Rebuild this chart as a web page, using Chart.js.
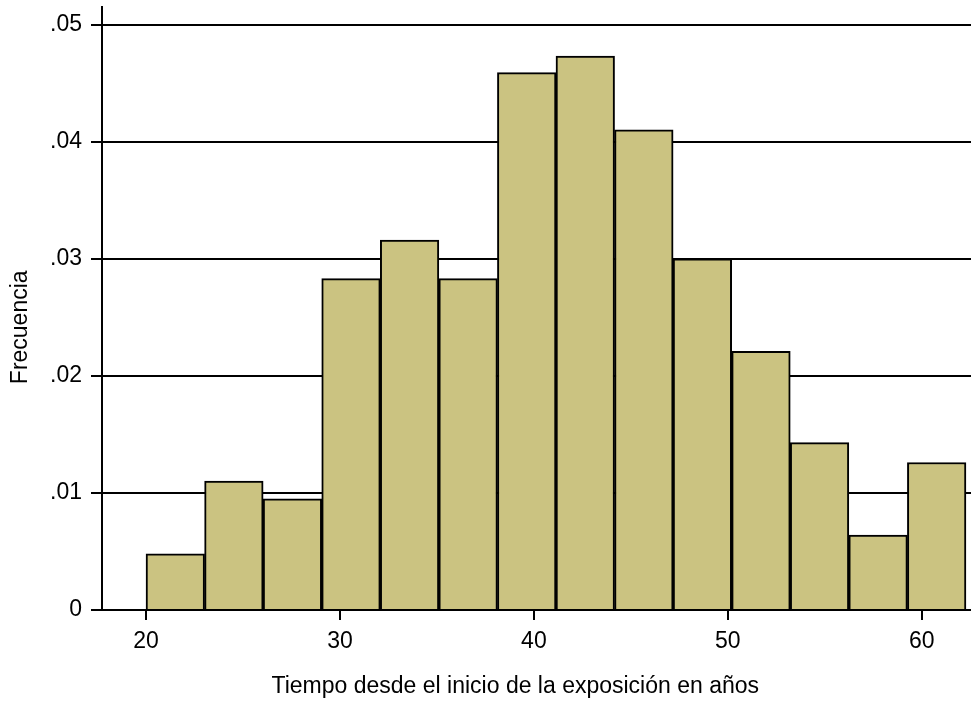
<!DOCTYPE html>
<html>
<head>
<meta charset="utf-8">
<script src="https://cdn.jsdelivr.net/npm/chart.js@4/dist/chart.umd.min.js"></script>
<style>
  html, body { margin: 0; padding: 0; background: #fff; }
  #wrap { width: 971px; height: 702px; position: relative; }
</style>
</head>
<body>
<div id="wrap"><canvas id="c" width="971" height="702"></canvas></div>
<script>
// Bin centers (bins ~3 years wide, starting at 20)
const binCenters = [21.51, 24.53, 27.55, 30.57, 33.59, 36.61, 39.63, 42.65, 45.67, 48.69, 51.71, 54.73, 57.75, 60.77];
const frequencies = [0.0048, 0.0110, 0.0095, 0.0283, 0.0316, 0.0283, 0.0459, 0.0473, 0.0410, 0.0300, 0.0221, 0.0143, 0.0064, 0.0126];
const xTicks = [20, 30, 40, 50, 60];
const yTicks = [0, 0.01, 0.02, 0.03, 0.04, 0.05];
const yTickLabels = ['0', '.01', '.02', '.03', '.04', '.05'];
const xTitle = 'Tiempo desde el inicio de la exposición en años';
const yTitle = 'Frecuencia';

const FONT = { family: '"Liberation Sans", Arial, sans-serif', size: 23 };

const axisTitlesPlugin = {
  id: 'axisTitles',
  afterDraw(chart) {
    const ctx = chart.ctx;
    const y = chart.scales.y;
    const x = chart.scales.x;
    ctx.save();
    ctx.fillStyle = '#000';
    ctx.font = FONT.size + 'px ' + FONT.family;
    ctx.textAlign = 'center';
    ctx.textBaseline = 'alphabetic';
    // x title
    const cx = (x.getPixelForValue(20) + x.getPixelForValue(62)) / 2 - 38;
    ctx.fillText(xTitle, cx, 693);
    // y title
    const cy = (y.getPixelForValue(0) + y.getPixelForValue(0.05)) / 2 + 10;
    ctx.translate(27, cy);
    ctx.rotate(-Math.PI / 2);
    ctx.fillText(yTitle, 0, 0);
    ctx.restore();
  }
};

new Chart(document.getElementById('c'), {
  type: 'bar',
  data: {
    datasets: [{
      data: binCenters.map((x, i) => ({ x: x, y: frequencies[i] })),
      backgroundColor: 'rgb(203,195,129)',
      borderColor: '#000',
      borderWidth: 2,
      barPercentage: 1,
      categoryPercentage: 1
    }]
  },
  plugins: [axisTitlesPlugin],
  options: {
    responsive: false,
    animation: false,
    layout: { padding: { top: 7, right: 0, left: 0, bottom: 0 } },
    plugins: { legend: { display: false }, tooltip: { enabled: false } },
    scales: {
      x: {
        type: 'linear',
        offset: false,
        min: 17.73,
        max: 62.54,
        afterBuildTicks: s => { s.ticks = xTicks.map(v => ({ value: v })); },
        afterFit: s => { s.height = 92; s.paddingLeft = 0; s.paddingRight = 0; },
        grid: { offset: false, drawOnChartArea: false, drawTicks: true, tickLength: 10, color: '#000', lineWidth: 2 },
        border: { display: true, color: '#000', width: 2 },
        ticks: { color: '#000', font: FONT, padding: 8, maxRotation: 0, autoSkip: false, callback: v => String(v) },
        title: { display: false }
      },
      y: {
        min: 0,
        max: 0.0515,
        afterBuildTicks: s => { s.ticks = yTicks.map(v => ({ value: v })); },
        afterFit: s => { s.width = 102; s.paddingTop = 0; s.paddingBottom = 0; },
        grid: { drawOnChartArea: true, drawTicks: true, tickLength: 11, color: '#000', lineWidth: 2 },
        border: { display: true, color: '#000', width: 2 },
        ticks: {
          color: '#000', font: FONT, padding: 9,
          callback: (v) => { const i = yTicks.findIndex(t => Math.abs(t - v) < 1e-9); return i >= 0 ? yTickLabels[i] : ''; }
        },
        title: { display: false }
      }
    }
  }
});
</script>
</body>
</html>
